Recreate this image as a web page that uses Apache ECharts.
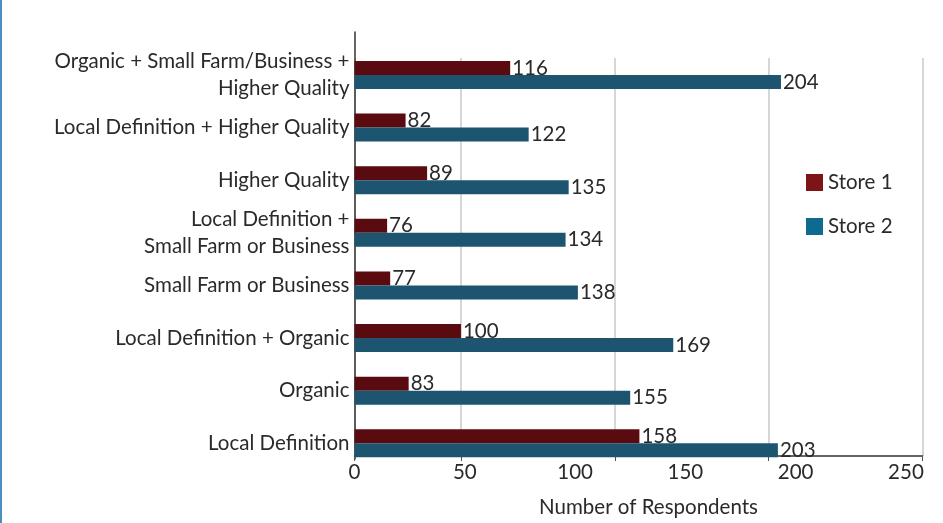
<!DOCTYPE html>
<html>
<head>
<meta charset="utf-8">
<script src="https://cdn.jsdelivr.net/npm/echarts@6/dist/echarts.min.js"></script>
<style>
  html, body { margin: 0; padding: 0; background: #fff; }
  #chart { width: 943px; height: 523px; }
</style>
</head>
<body>
<div id="chart"></div>
<script>
// categories, bottom to top
var categories = [
  'Local Definition',
  'Organic',
  'Local Definition + Organic',
  'Small Farm or Business',
  'Local Definition +\nSmall Farm or Business',
  'Higher Quality',
  'Local Definition + Higher Quality',
  'Organic + Small Farm/Business +\nHigher Quality'
];
var store1 = [158, 83, 100, 77, 76, 89, 82, 116];
var store2 = [203, 155, 169, 138, 134, 135, 122, 204];
var seriesNames = ['Store 1', 'Store 2'];
var tickLabels = [0, 50, 100, 150, 200, 250];

// the bars in the picture are drawn on a scale that starts near 65,
// while the printed axis reads 0-250
var barAxisMin = 65.4;
var barAxisMax = 250;
var labelAxisMax = 257.5;

var font = 'Lato, "Noto Sans", sans-serif';
var fontSize = 20.5;
var textColor = '#2a2a2a';

window.onload = function () {
  var myChart = echarts.init(document.getElementById('chart'));

  var option = {
    animation: false,
    textStyle: { fontFamily: font },
    graphic: [{
      type: 'rect',
      left: 0,
      top: 0,
      shape: { width: 2, height: 523 },
      style: { fill: '#4a8fbf' }
    }],
    legend: {
      orient: 'vertical',
      left: 801,
      top: 167,
      itemWidth: 17,
      itemHeight: 17,
      itemGap: 23,
      icon: 'rect',
      textStyle: { fontFamily: font, fontSize: fontSize, color: textColor, lineHeight: 18 },
      data: [
        { name: seriesNames[0], itemStyle: { color: '#7d1518' } },
        { name: seriesNames[1], itemStyle: { color: '#0e6a8f' } }
      ]
    },
    grid: [
      // axis frame: x axis line, ticks, grid lines
      { left: 354.5, right: 20.5, top: 58, bottom: 67 },
      // bars and category labels
      { left: 354.5, right: 20.5, top: 48.7, bottom: 53.4 },
      // vertical axis line
      { left: 354.5, right: 20.5, top: 32, bottom: 64 }
    ],
    xAxis: [{
      gridIndex: 0,
      type: 'value',
      position: 'bottom',
      min: barAxisMin,
      max: barAxisMax,
      splitNumber: 4,
      minInterval: 50,
      maxInterval: 50,
      axisLine: { show: true, lineStyle: { color: '#333', width: 1.5 } },
      axisTick: { show: true, length: 5, lineStyle: { color: '#555', width: 1 } },
      axisLabel: { show: false },
      splitLine: { show: true, lineStyle: { color: '#c9c9c9', width: 1.5 } }
    }, {
      gridIndex: 0,
      type: 'value',
      position: 'bottom',
      min: 0,
      max: labelAxisMax,
      interval: 50,
      axisLine: { show: false },
      axisTick: { show: false },
      splitLine: { show: false },
      axisLabel: {
        margin: 6,
        fontSize: fontSize,
        color: textColor,
        showMaxLabel: false,
        formatter: function (v) {
          return tickLabels.indexOf(v) >= 0 ? String(v) : '';
        }
      },
      name: 'Number of Respondents',
      nameLocation: 'middle',
      nameGap: 41,
      nameTextStyle: { fontSize: fontSize, color: textColor, padding: [0, 0, 0, 20] }
    }, {
      gridIndex: 1,
      type: 'value',
      position: 'bottom',
      min: barAxisMin,
      max: barAxisMax,
      show: false
    }, {
      gridIndex: 2,
      type: 'value',
      position: 'bottom',
      show: false
    }],
    yAxis: [{
      gridIndex: 0,
      type: 'value',
      show: false
    }, {
      gridIndex: 1,
      type: 'category',
      data: categories,
      axisLine: { show: false },
      axisTick: { show: false },
      axisLabel: {
        margin: 5,
        fontSize: fontSize,
        lineHeight: 27,
        padding: [3, 0, 0, 0],
        color: textColor,
        align: 'right'
      }
    }, {
      gridIndex: 2,
      type: 'value',
      axisLine: { show: true, lineStyle: { color: '#333', width: 1.5 } },
      axisTick: { show: false },
      axisLabel: { show: false },
      splitLine: { show: false }
    }],
    series: [{
      name: seriesNames[0],
      type: 'bar',
      xAxisIndex: 2,
      yAxisIndex: 1,
      data: store1,
      barWidth: 14,
      barGap: '0%',
      itemStyle: { color: '#5a0b0f' },
      label: {
        show: true,
        position: 'right',
        distance: 2,
        fontSize: fontSize,
        color: textColor,
        fontFamily: font
      }
    }, {
      name: seriesNames[1],
      type: 'bar',
      xAxisIndex: 2,
      yAxisIndex: 1,
      data: store2,
      barWidth: 14,
      barGap: '0%',
      itemStyle: { color: '#1d5470' },
      label: {
        show: true,
        position: 'right',
        distance: 2,
        fontSize: fontSize,
        color: textColor,
        fontFamily: font
      }
    }]
  };

  myChart.setOption(option);
};
</script>
</body>
</html>
